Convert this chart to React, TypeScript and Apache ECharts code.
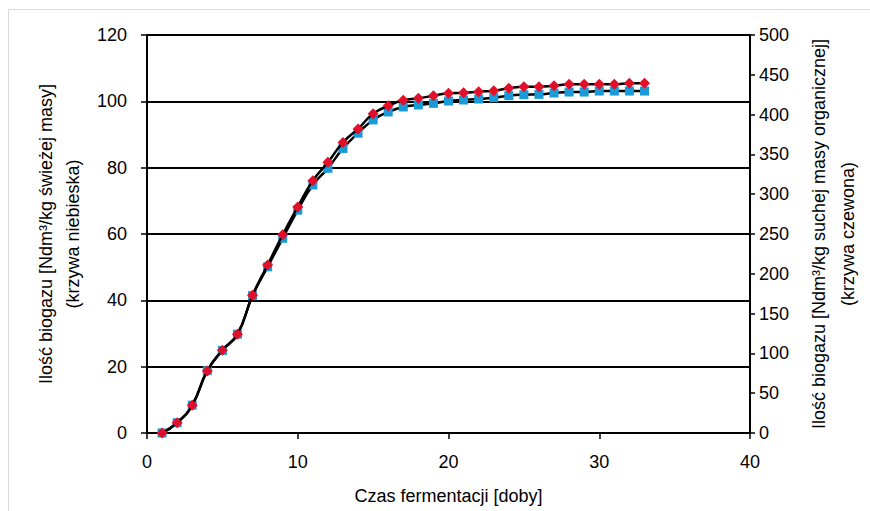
import React, { useEffect, useRef } from "react";
import * as echarts from "echarts";

const days = [1,2,3,4,5,6,7,8,9,10,11,12,13,14,15,16,17,18,19,20,21,22,23,24,25,26,27,28,29,30,31,32,33];
const freshMass = [0,3.1,8.4,18.8,24.9,29.8,41.4,50.1,58.7,67.2,74.8,79.8,85.8,90.4,94.4,96.8,98.3,98.9,99.4,100.1,100.4,100.7,101.1,101.7,102.0,102.1,102.5,102.8,102.8,103.1,103.1,103.1,103.1];
const dryOrganic = [0,13,35,78,104,124,173,211,249,284,317,340,365,382,401,411,418,420.5,423.7,426.8,427.5,428.8,430,433,435,435,436.3,438,438,438,438,439.3,439.3];

const leftName = "Ilość biogazu [Ndm³/kg świeżej masy]\n(krzywa niebieska)";
const rightName = "Ilość biogazu [Ndm³/kg suchej masy organicznej]\n(krzywa czewona)";
const xName = "Czas fermentacji [doby]";

const FONT = "'Liberation Sans', Arial, sans-serif";

export default function App() {
  const ref = useRef<HTMLDivElement>(null);
  useEffect(() => {
    if (!ref.current) return;
    const chart = echarts.init(ref.current, null, { renderer: "svg" });
    const blue = days.map((d, i) => [d, freshMass[i]]);
    const red = days.map((d, i) => [d, dryOrganic[i]]);
    const axisText = { color: "#000", fontSize: 18, fontFamily: FONT };
    chart.setOption({
      animation: false,
      backgroundColor: "#fff",
      textStyle: { fontFamily: FONT },
      graphic: [
        {
          type: "rect",
          shape: { x: 8.5, y: 9.5, width: 900, height: 600 },
          style: { fill: "none", stroke: "#d9d9d9", lineWidth: 1 },
          silent: true,
        },
      ],
      grid: { left: 147, right: 117, top: 35, bottom: 78 },
      xAxis: {
        type: "value",
        min: 0,
        max: 40,
        interval: 10,
        name: xName,
        nameLocation: "middle",
        nameGap: 54,
        nameTextStyle: { ...axisText },
        axisLine: { lineStyle: { color: "#000", width: 2 } },
        axisTick: { show: true, inside: false, length: 6, lineStyle: { color: "#000", width: 1.5 } },
        axisLabel: { ...axisText, margin: 20 },
        splitLine: { show: false },
      },
      yAxis: [
        {
          type: "value",
          min: 0,
          max: 120,
          interval: 20,
          position: "left",
          name: leftName,
          nameLocation: "middle",
          nameRotate: 90,
          nameGap: 58,
          nameTextStyle: { ...axisText, lineHeight: 27 },
          axisLine: { show: true, lineStyle: { color: "#000", width: 2 } },
          axisTick: { show: true, inside: false, length: 6, lineStyle: { color: "#000", width: 1.5 } },
          axisLabel: { ...axisText, margin: 20 },
          splitLine: { show: true, lineStyle: { color: "#000", width: 2 } },
        },
        {
          type: "value",
          min: 0,
          max: 500,
          interval: 50,
          position: "right",
          name: rightName,
          nameLocation: "middle",
          nameRotate: 90,
          nameGap: 54,
          nameTextStyle: { ...axisText, lineHeight: 29 },
          axisLine: { show: true, lineStyle: { color: "#000", width: 2 } },
          axisTick: { show: true, inside: false, length: 5, lineStyle: { color: "#000", width: 1.5 } },
          axisLabel: { ...axisText, margin: 9 },
          splitLine: { show: false },
        },
      ],
      series: [
        {
          name: "krzywa niebieska",
          type: "line",
          yAxisIndex: 0,
          data: blue,
          smooth: 0.5,
          symbol: "rect",
          symbolSize: 9,
          itemStyle: { color: "#1a9ad6" },
          lineStyle: { color: "#000", width: 2.5 },
          z: 2,
        },
        {
          name: "krzywa czerwona",
          type: "line",
          yAxisIndex: 1,
          data: red,
          smooth: 0.5,
          symbol: "diamond",
          symbolSize: [11, 11],
          itemStyle: { color: "#e0102a" },
          lineStyle: { color: "#000", width: 2.5 },
          z: 3,
        },
      ],
    });
    return () => chart.dispose();
  }, []);
  return (
    <div
      ref={ref}
      style={{ position: "fixed", left: 0, top: 0, width: 870, height: 511 }}
    />
  );
}
